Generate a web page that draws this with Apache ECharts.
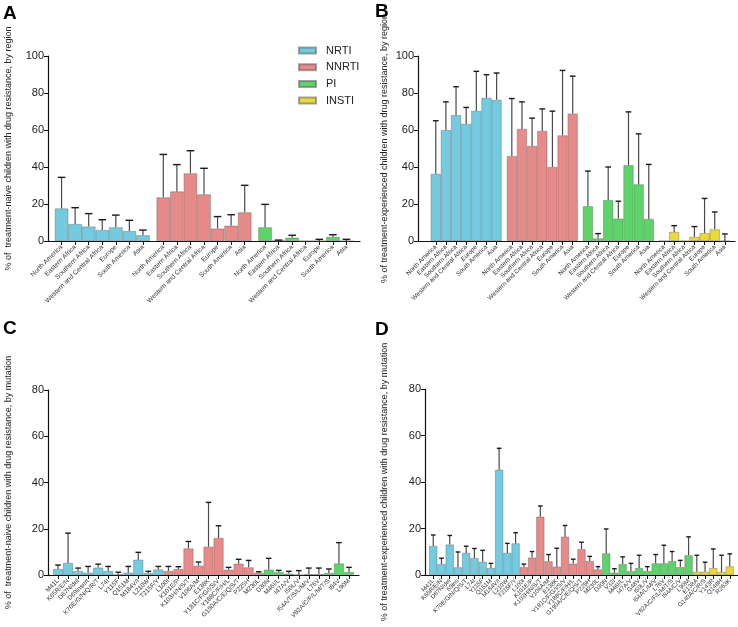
<!DOCTYPE html>
<html>
<head>
<meta charset="utf-8">
<script src="https://cdn.jsdelivr.net/npm/echarts@6/dist/echarts.min.js"></script>
<style>
html,body{margin:0;padding:0;background:#fff;}
#chart{width:738px;height:627px;}
</style>
</head>
<body>
<div id="chart"></div>
<script>
// ---------- DATA ----------
const classes = ['NRTI', 'NNRTI', 'PI', 'INSTI'];
const regions = ['North America', 'Eastern Africa', 'Southern Africa', 'Western and Central Africa', 'Europe', 'South America', 'Asia'];

// Panel A: treatment-naive, by region (value, upper CI)
const aNRTI = [17.6, 9.2, 7.8, 5.9, 7.4, 5.4, 3.1];
const aNRTIup = [34.4, 18.0, 14.8, 11.5, 14.0, 11.2, 5.9];
const aNNRTI = [23.6, 26.8, 36.6, 25.2, 6.7, 8.3, 15.5];
const aNNRTIup = [46.8, 41.3, 48.8, 39.3, 13.2, 14.2, 30.1];
const aPI = [7.4, 0.2, 1.8, 0, 0, 2.2, 0];
const aPIup = [19.8, 0.5, 3.1, 0, 0.9, 3.4, 0.9];

// Panel B: treatment-experienced, by region
const bNRTI = [36.3, 59.9, 68.0, 63.3, 70.3, 77.4, 76.3];
const bNRTIup = [65.0, 75.2, 83.4, 72.2, 91.7, 89.9, 90.8];
const bNNRTI = [45.9, 60.6, 51.4, 59.5, 40.0, 57.1, 68.9];
const bNNRTIup = [77.0, 75.2, 66.4, 71.4, 70.2, 92.2, 89.1];
const bPI = [18.8, 1.4, 22.1, 12.1, 41.0, 30.6, 11.9];
const bPIup = [37.8, 4.0, 40.0, 21.5, 69.8, 57.9, 41.4];
const bINSTI = [0, 4.9, 0, 2.2, 4.3, 6.3, 0];
const bINSTIup = [0, 8.3, 0, 7.8, 23.0, 15.7, 3.8];

// Panel C: treatment-naive, by mutation
const cNRTImut = ['M41L', 'K65R/E/N', 'D67N/del', 'D69insert', 'K70E/G/N/Q/R/T', 'L74I', 'Y115F', 'Q151M', 'M184V/I', 'L210W', 'T215F/Y'];
const cNRTI = [2.6, 5.2, 1.7, 1.0, 3.2, 1.7, 0.2, 1.0, 6.6, 0.9, 2.4];
const cNRTIup = [4.3, 18.1, 3.0, 3.7, 4.7, 3.7, 1.2, 3.7, 9.8, 1.6, 3.7];
const cNNRTImut = ['L100I', 'K101E/P', 'K103H/N/S/T', 'V106A/M', 'E138K', 'Y181C/F/G/I/S/V', 'Y188C/F/H/L', 'G190A/C/E/Q/S/T', 'P225H', 'M230L'];
const cNNRTI = [1.7, 2.6, 11.5, 4.0, 12.2, 16.0, 2.3, 4.9, 3.3, 0.9];
const cNNRTIup = [3.7, 3.6, 14.5, 5.6, 31.4, 21.3, 3.3, 6.8, 6.3, 1.4];
const cPImut = ['D30N', 'M46I/L', 'I47A/V', 'I50L/V', 'I54A/T/S/L/M/V', 'L76V', 'V82A/C/F/L/M/T/S', 'I84V', 'L90M'];
const cPI = [2.3, 1.2, 0.6, 0.1, 0.4, 0.4, 0.9, 5.0, 1.3];
const cPIup = [7.2, 2.0, 1.6, 1.9, 3.0, 3.0, 2.6, 14.0, 3.3];

// Panel D: treatment-experienced, by mutation
const dNRTImut = ['M41L', 'K65R/E/N', 'D67N/del', '69ins', 'K70E/G/N/Q/S/T', 'L74I', 'Y115F', 'Q151M', 'M184V/I', 'L210W', 'T215F/Y'];
const dNRTI = [12.5, 4.7, 13.1, 3.3, 9.5, 7.3, 5.7, 3.0, 45.3, 9.5, 13.6];
const dNRTIup = [17.2, 7.2, 17.0, 9.9, 12.4, 11.4, 10.6, 5.0, 54.5, 13.6, 18.2];
const dNNRTImut = ['L100I', 'K101E/P', 'K103H/N/S/T', 'V106A/M', 'E138K', 'Y181C/F/G/I/S/V', 'Y188C/F/H/L', 'G190A/C/E/Q/S/T', 'P225H', 'M230L'];
const dNNRTI = [3.4, 7.5, 25.1, 5.9, 3.6, 16.5, 4.9, 11.1, 6.0, 2.4];
const dNNRTIup = [4.7, 10.1, 29.7, 8.8, 11.5, 21.3, 6.8, 14.1, 8.0, 3.6];
const dPImut = ['D30N', 'V32I', 'M46I/L', 'I47A/V', 'G48V', 'I50L/V', 'I54A/L/M/V', 'L76V', 'V82A/C/F/L/M/T/S', 'I84A/C/V', 'L90M'];
const dPI = [9.3, 1.0, 4.7, 1.7, 3.0, 1.7, 5.0, 5.0, 6.0, 3.4, 8.5];
const dPIup = [19.8, 2.7, 7.8, 5.0, 8.5, 3.6, 8.8, 12.8, 10.1, 6.3, 16.4];
const dINSTImut = ['E138A', 'G140A/C/R/S', 'Y143R', 'Q148H', 'R263K'];
const dINSTI = [1.4, 1.4, 3.0, 1.3, 3.7];
const dINSTIup = [8.5, 5.5, 11.2, 8.5, 9.1];

// ---------- STYLE ----------
const colors = {NRTI: '#74CBE0', NNRTI: '#E68A8A', PI: '#5DD36A', INSTI: '#EAD93A'};
const FONT = 'Liberation Sans, Arial, sans-serif';

// panel definitions
const panels = [
  {
    grid: {left: 48, top: 56, width: 312, height: 185}, min: -1, max: 22, ymax: 100, xFont: 6.6,
    yName: '% of  treatment-naive children with drug resistance, by region', nameGap: 35,
    groups: [
      {cls: 'NRTI', labels: regions, v: aNRTI, up: aNRTIup},
      {cls: 'NNRTI', labels: regions, v: aNNRTI, up: aNNRTIup},
      {cls: 'PI', labels: regions, v: aPI, up: aPIup}
    ], gapStep: 7.5
  },
  {
    grid: {left: 418, top: 56, width: 317, height: 185}, min: -1.75, max: 29.5, ymax: 100, xFont: 6.3,
    yName: '% of treatment-experienced children with drug resistance, by region', nameGap: 29,
    groups: [
      {cls: 'NRTI', labels: regions, v: bNRTI, up: bNRTIup},
      {cls: 'NNRTI', labels: regions, v: bNNRTI, up: bNNRTIup},
      {cls: 'PI', labels: regions, v: bPI, up: bPIup},
      {cls: 'INSTI', labels: regions, v: bINSTI, up: bINSTIup}
    ], gapStep: 7.5
  },
  {
    grid: {left: 48, top: 390, width: 311, height: 185}, min: -1, max: 30, ymax: 80, xFont: 6.4,
    yName: '% of  treatment-naive children with drug resistance, by mutation', nameGap: 35,
    groups: [
      {cls: 'NRTI', labels: cNRTImut, v: cNRTI, up: cNRTIup},
      {cls: 'NNRTI', labels: cNNRTImut, v: cNNRTI, up: cNNRTIup},
      {cls: 'PI', labels: cPImut, v: cPI, up: cPIup}
    ], gapStep: null
  },
  {
    grid: {left: 425, top: 389, width: 313, height: 186}, min: -1, max: 37, ymax: 80, xFont: 6.1,
    yName: '% of treatment-experienced children with drug resistance, by mutation', nameGap: 36,
    groups: [
      {cls: 'NRTI', labels: dNRTImut, v: dNRTI, up: dNRTIup},
      {cls: 'NNRTI', labels: dNNRTImut, v: dNNRTI, up: dNNRTIup},
      {cls: 'PI', labels: dPImut, v: dPI, up: dPIup},
      {cls: 'INSTI', labels: dINSTImut, v: dINSTI, up: dINSTIup}
    ], gapStep: null
  }
];

const grids = [], xAxes = [], yAxes = [], series = [];

panels.forEach((p, pi) => {
  const unitPx = p.grid.width / (p.max - p.min);
  const barW = unitPx;
  const labelMap = {};
  const positions = [];
  let seq = 0;
  const errData = [];
  p.groups.forEach((g, gi) => {
    const data = [];
    g.v.forEach((val, i) => {
      const x = p.gapStep !== null ? gi * p.gapStep + i : seq++;
      positions.push(x);
      labelMap[String(x)] = g.labels[i];
      data.push([x, val]);
      if (g.up[i] > val) errData.push([x, val, g.up[i]]);
    });
    series.push({
      type: 'bar', name: g.cls, xAxisIndex: pi, yAxisIndex: pi,
      barWidth: barW, barGap: '-100%',
      itemStyle: {color: colors[g.cls], borderColor: 'rgba(90,90,90,0.55)', borderWidth: 0.7},
      data: data, z: 2, silent: true
    });
  });
  series.push({
    type: 'custom', xAxisIndex: pi, yAxisIndex: pi, z: 5, silent: true,
    data: errData,
    renderItem: function (params, api) {
      const x = api.value(0);
      const p0 = api.coord([x, api.value(1)]);
      const p1 = api.coord([x, api.value(2)]);
      const half = Math.max(2.2, barW * 0.28);
      return {
        type: 'group',
        children: [
          {type: 'line', shape: {x1: p0[0], y1: p0[1], x2: p1[0], y2: p1[1]}, style: {stroke: '#4a4a4a', lineWidth: 1.2}},
          {type: 'line', shape: {x1: p1[0] - half, y1: p1[1], x2: p1[0] + half, y2: p1[1]}, style: {stroke: '#1a1a1a', lineWidth: 1.4}}
        ]
      };
    }
  });
  grids.push(Object.assign({containLabel: false}, p.grid));
  xAxes.push({
    type: 'value', gridIndex: pi, min: p.min, max: p.max,
    splitLine: {show: false},
    axisLine: {show: true, onZero: false, lineStyle: {color: '#111', width: 1.2}},
    axisTick: {show: true, customValues: positions, length: 4, lineStyle: {color: '#111', width: 1}},
    axisLabel: {
      show: true, customValues: positions, rotate: 45, fontSize: p.xFont, color: '#333', fontFamily: FONT, margin: 5,
      showMinLabel: true, showMaxLabel: true, hideOverlap: false,
      formatter: v => labelMap[String(Math.round(v * 2) / 2)] || ''
    }
  });
  yAxes.push({
    type: 'value', gridIndex: pi, min: 0, max: p.ymax, interval: 20,
    name: p.yName, nameLocation: 'middle', nameGap: p.nameGap,
    nameTextStyle: {fontSize: 9, color: '#222', fontFamily: FONT},
    splitLine: {show: false},
    axisLine: {show: true, onZero: false, lineStyle: {color: '#111', width: 1.2}},
    axisTick: {show: true, length: 4, lineStyle: {color: '#111', width: 1}},
    axisLabel: {fontSize: 11, color: '#222', fontFamily: FONT, margin: 4}
  });
});

const letterStyle = {fontSize: 19, fontWeight: 'bold', color: '#000', fontFamily: FONT};
const chart = echarts.init(document.getElementById('chart'), null, {renderer: 'canvas'});
chart.setOption({
  animation: false,
  backgroundColor: '#fff',
  textStyle: {fontFamily: FONT},
  title: [
    {text: 'A', left: 3, top: 4, padding: 0, textStyle: letterStyle},
    {text: 'B', left: 375, top: 2, padding: 0, textStyle: letterStyle},
    {text: 'C', left: 3, top: 319, padding: 0, textStyle: letterStyle},
    {text: 'D', left: 375, top: 320, padding: 0, textStyle: letterStyle}
  ],
  legend: {
    data: classes, orient: 'vertical', left: 298, top: 45, padding: 0, itemWidth: 17, itemHeight: 6, itemGap: 5.7,
    icon: 'rect', selectedMode: false,
    textStyle: {fontSize: 11, color: '#222', fontFamily: FONT, padding: [0, 0, 0, 5]}
  },
  grid: grids, xAxis: xAxes, yAxis: yAxes, series: series
});
</script>
</body>
</html>
